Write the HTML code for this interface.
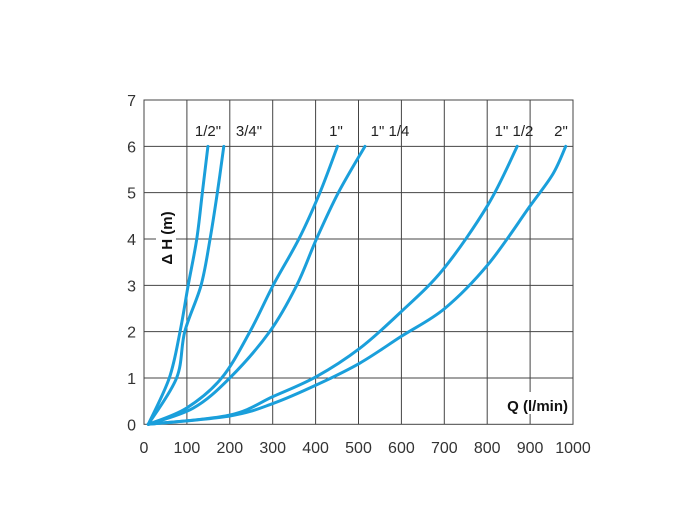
<!DOCTYPE html>
<html><head><meta charset="utf-8">
<style>
html,body{margin:0;padding:0;background:#fff;}
svg{display:block;font-family:"Liberation Sans",Arial,sans-serif;}
</style></head>
<body>
<svg id="chart" width="700" height="520" viewBox="0 0 700 520" xmlns="http://www.w3.org/2000/svg"></svg>
<script>
const xTicks = [0,100,200,300,400,500,600,700,800,900,1000];
const yTicks = [0,1,2,3,4,5,6,7];
const seriesNames = ['1/2"','3/4"','1"','1" 1/4','1" 1/2','2"'];
const q12 = [10,59,84,103,123,136,149];
const h12 = [0,1,2,3,4,5,6];
const q34 = [10,76,95,133,154,171,186];
const h34 = [0,1,2,3,4,5,6];
const q1 = [10,99,181,247,301,361,410,451];
const h1 = [0,0.35,1,2,3,4,5,6];
const q114 = [10,115,200,293,356,402,453,515];
const h114 = [0,0.35,1,2,3,4,5,6];
const q112 = [10,200,301,402,503,596,697,802,870];
const h112 = [0,0.2,0.6,1.03,1.64,2.4,3.34,4.74,6];
const q2 = [10,200,301,402,503,600,701,802,899,953,983];
const h2 = [0,0.18,0.45,0.85,1.32,1.9,2.5,3.45,4.7,5.4,6];
const labelX = [208,249,336,390,514,561];

const NS='http://www.w3.org/2000/svg';
const svg=document.getElementById('chart');
const X0=144,X1=573,Y0=424.3,Y1=100;
const xs=v=>X0+(X1-X0)*v/1000;
const ys=v=>Y0-(Y0-Y1)*v/7;
function mk(t,a,p){const e=document.createElementNS(NS,t);for(const k in a)e.setAttribute(k,a[k]);(p||svg).appendChild(e);return e;}

const grid=mk('g',{});


xTicks.forEach(v=>{
  if(v>0&&v<1000){const l=mk('line',{x1:xs(v),x2:xs(v),y1:Y1,y2:Y0,stroke:'#444','stroke-width':1},grid);
  }
  const t=mk('text',{x:xs(v),y:453,'text-anchor':'middle','font-size':16,fill:'#333'});
  
  t.textContent=v;
});
yTicks.forEach(v=>{
  if(v>0&&v<7){const l=mk('line',{x1:X0,x2:X1,y1:ys(v),y2:ys(v),stroke:'#444','stroke-width':1},grid);
  }
  const t=mk('text',{x:136,y:ys(v)+6,'text-anchor':'end','font-size':16,fill:'#333'});
  
  t.textContent=v;
});
const frame=mk('rect',{x:X0,y:Y1,width:X1-X0,height:Y0-Y1,fill:'none',stroke:'#444','stroke-width':1});


// label backgrounds
const bg1=mk('rect',{x:156,y:200,width:20,height:76,fill:'#fff'});

const bg2=mk('rect',{x:498,y:392,width:72,height:22,fill:'#fff'});

const bg3=mk('rect',{x:X0+1,y:118,width:X1-X0-2,height:20,fill:'#fff'});

xTicks.forEach(v=>{ if(v>0&&v<1000){const l=mk('line',{x1:xs(v),x2:xs(v),y1:118,y2:138,stroke:'#444','stroke-width':1});
  }});

function path(qs,hs){
  const p=qs.map((q,i)=>[xs(q),ys(hs[i])]);
  let d='M'+p[0][0]+','+p[0][1];
  for(let i=0;i<p.length-1;i++){
    const a=p[Math.max(0,i-1)],b=p[i],c=p[i+1],e=p[Math.min(p.length-1,i+2)];
    const c1=[b[0]+(c[0]-a[0])/6,b[1]+(c[1]-a[1])/6];
    const c2=[c[0]-(e[0]-b[0])/6,c[1]-(e[1]-b[1])/6];
    d+=' C'+c1+' '+c2+' '+c;
  }
  return d;
}
const data=[[q12,h12],[q34,h34],[q1,h1],[q114,h114],[q112,h112],[q2,h2]];
const sn=['curve-1-2','curve-3-4','curve-1','curve-1-1-4','curve-1-1-2','curve-2'];
data.forEach((s,i)=>{
  const el=mk('path',{d:path(s[0],s[1]),fill:'none',stroke:'#1a9fdb','stroke-width':3,'stroke-linecap':'round'});
  
  
  const t=mk('text',{x:labelX[i],y:136,'text-anchor':'middle','font-size':15,fill:'#222'});
  
  
  t.textContent=seriesNames[i];
});
const yt=mk('text',{x:172,y:238,'text-anchor':'middle','font-size':15,'font-weight':'bold',fill:'#111',transform:'rotate(-90 172 238)'});

yt.textContent='Δ H (m)';
const xt=mk('text',{x:568,y:411,'text-anchor':'end','font-size':15,'font-weight':'bold',fill:'#111'});

xt.textContent='Q (l/min)';
</script>
</body></html>
